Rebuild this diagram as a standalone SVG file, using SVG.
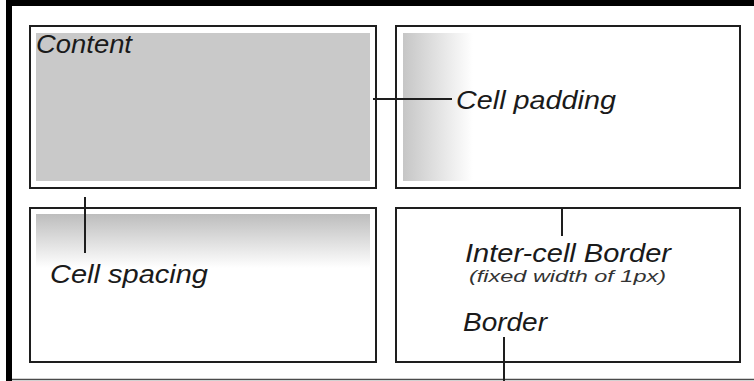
<svg xmlns="http://www.w3.org/2000/svg" width="754" height="381" viewBox="0 0 754 381">
  <defs>
    <linearGradient id="padFade" x1="0" y1="0" x2="1" y2="0">
      <stop offset="0" stop-color="#c6c6c6"/>
      <stop offset="1" stop-color="#ffffff"/>
    </linearGradient>
    <linearGradient id="spaceFade" x1="0" y1="0" x2="0" y2="1">
      <stop offset="0" stop-color="#bdbdbd"/>
      <stop offset="1" stop-color="#ffffff"/>
    </linearGradient>
    <style>
      .cell { fill: #ffffff; stroke: #1e1e1e; stroke-width: 2; }
      .lead { stroke: #1e1e1e; stroke-width: 2; fill: none; }
      .lbl { font-family: "Liberation Sans", Arial, sans-serif; font-style: italic; font-size: 26px; fill: #1a1a1a; }
      .note { font-family: "Liberation Sans", Arial, sans-serif; font-style: italic; font-size: 17px; fill: #333333; }
    </style>
  </defs>

  <!-- page background and table frame -->
  <rect x="0" y="0" width="754" height="381" fill="#ffffff"/>
  <g id="frame">
    <rect x="6" y="0" width="748" height="6" fill="#000000"/>
    <rect x="6" y="0" width="6" height="381" fill="#000000"/>
    <line x1="12" y1="379.5" x2="754" y2="379.5" stroke="#4a4a4a" stroke-width="1.5"/>
  </g>

  <!-- top-left cell with content area -->
  <g id="cell-content">
    <rect class="cell" x="30" y="26" width="346" height="162"/>
    <rect x="36" y="33" width="334" height="148" fill="#c9c9c9"/>
    <text class="lbl" x="36" y="53" textLength="96" lengthAdjust="spacingAndGlyphs">Content</text>
  </g>

  <!-- top-right cell showing padding -->
  <g id="cell-padding">
    <rect class="cell" x="396" y="26" width="344" height="162"/>
    <rect x="403" y="33" width="70" height="148" fill="url(#padFade)"/>
    <text class="lbl" x="456" y="109" textLength="160" lengthAdjust="spacingAndGlyphs">Cell padding</text>
  </g>

  <!-- bottom-left cell showing spacing -->
  <g id="cell-spacing">
    <rect class="cell" x="30" y="208" width="346" height="154"/>
    <rect x="36" y="214" width="334" height="54" fill="url(#spaceFade)"/>
    <text class="lbl" x="50" y="283" textLength="158" lengthAdjust="spacingAndGlyphs">Cell spacing</text>
  </g>

  <!-- bottom-right cell with border labels -->
  <g id="cell-border">
    <rect class="cell" x="396" y="208" width="344" height="154"/>
    <text class="lbl" x="465" y="262" textLength="206" lengthAdjust="spacingAndGlyphs">Inter-cell Border</text>
    <text class="note" x="469" y="282" textLength="197" lengthAdjust="spacingAndGlyphs">(fixed width of 1px)</text>
    <text class="lbl" x="463" y="331" textLength="84" lengthAdjust="spacingAndGlyphs">Border</text>
  </g>

  <!-- leader lines -->
  <g id="connectors">
    <line class="lead" x1="373" y1="99" x2="452" y2="99"/>
    <line class="lead" x1="85" y1="197" x2="85" y2="253"/>
    <line class="lead" x1="562" y1="208" x2="562" y2="236"/>
    <line class="lead" x1="504" y1="337" x2="504" y2="381"/>
  </g>
</svg>
